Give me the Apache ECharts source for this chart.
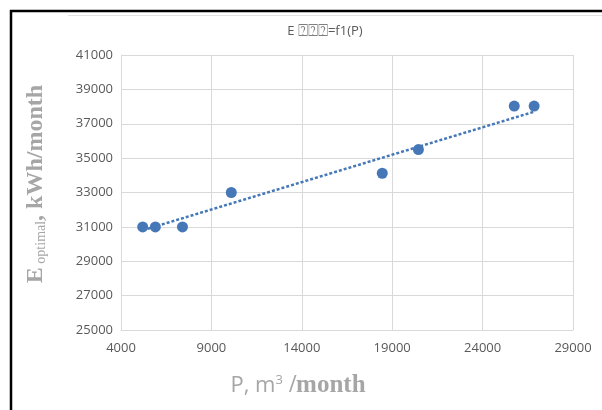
<!DOCTYPE html>
<html>
<head>
<meta charset="utf-8">
<script src="https://cdn.jsdelivr.net/npm/echarts@6/dist/echarts.min.js"></script>
<style>
html, body { margin: 0; padding: 0; background: #fff; }
#main { width: 602px; height: 410px; }
</style>
</head>
<body>
<div id="main"></div>
<script>
// measured points, P (m3/month) vs E optimal (kWh/month)
var pValues = [5200, 5900, 7400, 10100, 18450, 20450, 25750, 26850];
var eValues = [31000, 31000, 31000, 33000, 34120, 35500, 38030, 38030];
// linear trendline ends
var trendP = [5200, 26850];
var trendE = [30800, 37700];

var xTicks = [4000, 9000, 14000, 19000, 24000, 29000];
var yTicks = [25000, 27000, 29000, 31000, 33000, 35000, 37000, 39000, 41000];

var blue = '#4678b8';
var tickColor = '#595959';
var titleGray = '#a6a6a6';

var points = pValues.map(function (p, i) { return [p, eValues[i]]; });
var trend = trendP.map(function (p, i) { return [p, trendE[i]]; });

var myChart = echarts.init(document.getElementById('main'), null, { renderer: 'canvas' });

var option = {
	animation: false,
	backgroundColor: '#fff',
	title: {
		text: 'E {q|\u2370\u2370\u2370}=f1(P)',
		left: 320,
		top: 18,
		textAlign: 'center',
		textStyle: {
			fontFamily: 'Open Sans', fontSize: 13, fontWeight: 'normal', color: tickColor,
			rich: { q: { fontFamily: 'DejaVu Sans', fontSize: 17, color: '#7f7f7f' } }
		}
	},
	grid: { left: 121, right: 29, top: 55, bottom: 80, containLabel: false },
	xAxis: {
		type: 'value',
		min: xTicks[0],
		max: xTicks[xTicks.length - 1],
		interval: 5000,
		axisLine: { show: true, lineStyle: { color: '#d9d9d9', width: 1 } },
		axisTick: { show: false },
		splitLine: { show: true, lineStyle: { color: '#d9d9d9', width: 1 } },
		axisLabel: { color: tickColor, fontFamily: 'Open Sans', fontSize: 13, margin: 12,
			formatter: function (v) { return String(v); } }
	},
	yAxis: {
		type: 'value',
		min: yTicks[0],
		max: yTicks[yTicks.length - 1],
		interval: 2000,
		axisLine: { show: true, lineStyle: { color: '#d9d9d9', width: 1 } },
		axisTick: { show: false },
		splitLine: { show: true, lineStyle: { color: '#d9d9d9', width: 1 } },
		axisLabel: { color: tickColor, fontFamily: 'Open Sans', fontSize: 13, margin: 8,
			formatter: function (v) { return String(v); } }
	},
	graphic: [
		// outer frame bits
		{ type: 'line', shape: { x1: 10, y1: 11, x2: 602, y2: 11 }, style: { stroke: '#000', lineWidth: 2.5 } },
		{ type: 'line', shape: { x1: 11, y1: 10, x2: 11, y2: 410 }, style: { stroke: '#000', lineWidth: 2.5 } },
		{ type: 'line', shape: { x1: 68, y1: 15.5, x2: 602, y2: 15.5 }, style: { stroke: '#e3e3e3', lineWidth: 1 } },
		// y axis title
		{
			type: 'text',
			x: 36, y: 184,
			rotation: Math.PI / 2,
			style: {
				text: '{big|E}{sub| optimal}{big|, kWh/month}',
				align: 'center', verticalAlign: 'middle',
				textAlign: 'center', textVerticalAlign: 'middle',
				rich: {
					big: { fontFamily: 'Liberation Serif', fontWeight: 'bold', fontSize: 24, fill: titleGray, color: titleGray },
					sub: { fontFamily: 'Liberation Serif', fontSize: 14, fill: titleGray, color: titleGray, verticalAlign: 'bottom' }
				}
			}
		},
		// x axis title
		{
			type: 'text',
			x: 298, y: 386,
			style: {
				text: '{a|P, m}{sup|3}{b| /month}',
				align: 'center', verticalAlign: 'middle',
				textAlign: 'center', textVerticalAlign: 'middle',
				rich: {
					a: { fontFamily: 'Open Sans', fontSize: 22, fill: titleGray, color: titleGray },
					sup: { fontFamily: 'Open Sans', fontSize: 13, fill: titleGray, color: titleGray, verticalAlign: 'top' },
					b: { fontFamily: 'Liberation Serif', fontWeight: 'bold', fontSize: 25, fill: titleGray, color: titleGray }
				}
			}
		}
	],
	series: [
		{
			type: 'line',
			data: trend,
			symbol: 'none',
			lineStyle: { color: blue, width: 2.5, type: [3, 2] },
			z: 1
		},
		{
			type: 'scatter',
			data: points,
			symbol: 'circle',
			symbolSize: 11,
			itemStyle: { color: blue, opacity: 1 },
			z: 2
		}
	]
};

myChart.setOption(option);
</script>
</body>
</html>
